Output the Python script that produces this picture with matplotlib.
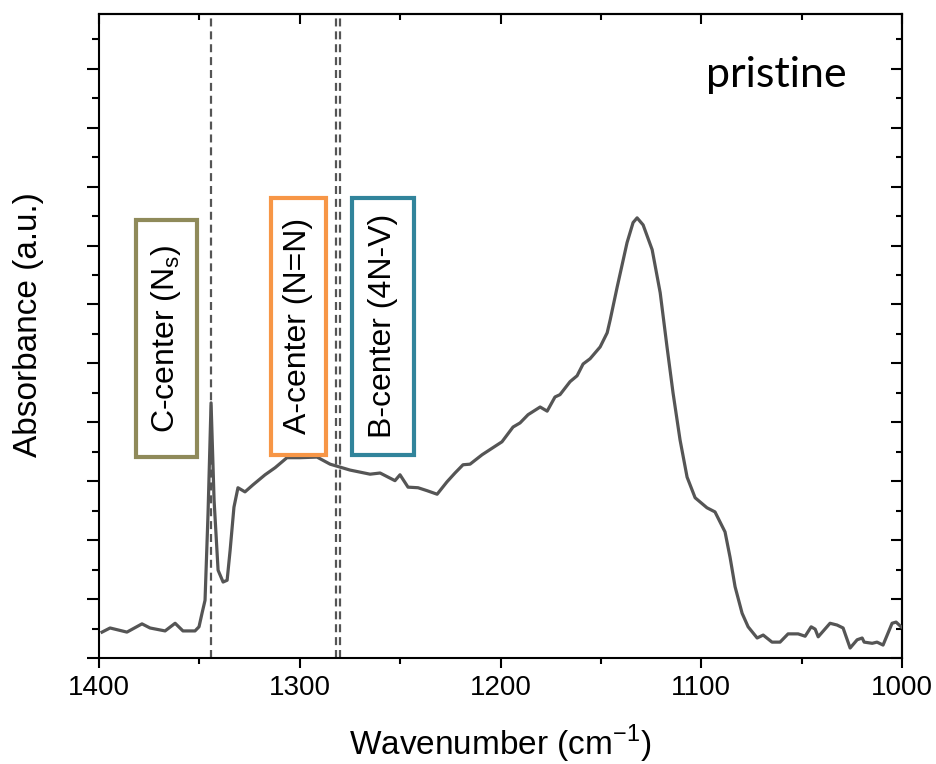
import matplotlib
matplotlib.use("Agg")
import matplotlib.pyplot as plt
from matplotlib.patches import Rectangle
from matplotlib.ticker import MultipleLocator

# FTIR absorbance spectrum
wavenumber = [1398.5, 1394.5, 1386.1, 1378.6, 1374.6, 1367.1, 1362.1, 1358.2, 1352.2, 1350.2,
              1348.7, 1347.2, 1345.7, 1344.2, 1342.7, 1340.7, 1338.2, 1336.2, 1334.7, 1332.8,
              1330.8, 1327.3, 1323.3, 1317.3, 1312.3, 1306.4, 1299.9, 1291.4, 1284.9, 1275.0,
              1265.0, 1260.0, 1252.6, 1250.1, 1246.1, 1241.1, 1236.6, 1231.6, 1226.7, 1222.7,
              1218.7, 1215.2, 1209.2, 1199.3, 1193.8, 1190.3, 1186.3, 1180.3, 1176.8, 1172.9,
              1170.4, 1165.4, 1161.9, 1158.9, 1155.4, 1150.4, 1146.9, 1145.4, 1141.9, 1137.0,
              1134.0, 1132.0, 1129.0, 1124.5, 1120.5, 1117.1, 1114.1, 1110.6, 1107.1, 1103.1,
              1097.2, 1093.2, 1088.2, 1085.7, 1083.2, 1079.7, 1076.7, 1072.2, 1069.2, 1064.8,
              1060.8, 1056.8, 1051.8, 1048.3, 1045.3, 1043.3, 1041.8, 1035.9, 1032.4, 1029.4,
              1025.9, 1022.4, 1019.9, 1018.9, 1014.9, 1012.5, 1009.5, 1005.0, 1003.0, 1000.5]
absorbance = [0.44, 0.51, 0.44, 0.58, 0.51, 0.46, 0.59, 0.46, 0.46, 0.53,
              0.76, 0.98, 2.46, 4.33, 2.68, 1.49, 1.29, 1.32, 1.83, 2.56,
              2.89, 2.82, 2.94, 3.11, 3.23, 3.40, 3.40, 3.41, 3.29, 3.19,
              3.12, 3.14, 3.01, 3.11, 2.90, 2.89, 2.84, 2.78, 2.99, 3.14,
              3.28, 3.29, 3.45, 3.67, 3.92, 3.99, 4.13, 4.26, 4.19, 4.43,
              4.47, 4.69, 4.79, 4.99, 5.08, 5.28, 5.52, 5.74, 6.30, 7.05,
              7.39, 7.47, 7.35, 6.93, 6.20, 5.28, 4.50, 3.70, 3.07, 2.72,
              2.55, 2.48, 2.14, 1.71, 1.21, 0.76, 0.53, 0.34, 0.39, 0.27,
              0.27, 0.41, 0.41, 0.37, 0.53, 0.49, 0.36, 0.59, 0.56, 0.51,
              0.17, 0.31, 0.34, 0.27, 0.25, 0.27, 0.22, 0.59, 0.61, 0.53]

# defect-centre marker lines
marker_lines = [1344, 1282, 1280]

# labelled boxes: text, colour, (x0, x1, y0, y1)
box_labels = [r"C-center (N$_\mathregular{s}$)", "A-center (N=N)", "B-center (4N-V)"]
box_colors = ["#8f8a5a", "#f79646", "#31849b"]
box_extents = [(1381.6, 1351.2, 3.41, 7.44),
               (1314.5, 1287.1, 3.45, 7.81),
               (1274.0, 1243.1, 3.45, 7.81)]

plt.rcParams["font.family"] = ["Liberation Sans", "DejaVu Sans"]
plt.rcParams["mathtext.fontset"] = "custom"
plt.rcParams["mathtext.rm"] = "Liberation Sans"

fig = plt.figure(figsize=(9.36, 7.64), dpi=100)
ax = fig.add_axes([0.1058, 0.1387, 0.858, 0.843])

ax.plot(wavenumber, absorbance, color="#555555", lw=2.3, zorder=3)

for wn in marker_lines:
    ax.axvline(wn, color="#555555", lw=1.6, linestyle=(0, (3.6, 2.2)), zorder=2)

for label, col, (x0, x1, y0, y1) in zip(box_labels, box_colors, box_extents):
    ax.add_patch(Rectangle((x1, y0), x0 - x1, y1 - y0, fill=True, facecolor="white",
                           edgecolor=col, lw=3, zorder=4))
    ax.text((x0 + x1) / 2, (y0 + y1) / 2, label, rotation=90, ha="center", va="center",
            fontsize=23, zorder=5)

ax.text(0.843, 0.905, "pristine", transform=ax.transAxes, ha="center", va="center",
        fontsize=31, family=["Lato", "DejaVu Sans"])

ax.set_xlim(1400, 1000)
ax.set_ylim(0, 10.93)
ax.xaxis.set_major_locator(MultipleLocator(100))
ax.xaxis.set_minor_locator(MultipleLocator(50))
ax.yaxis.set_major_locator(MultipleLocator(1))
ax.yaxis.set_minor_locator(MultipleLocator(0.5))
ax.tick_params(axis="both", which="both", direction="out", width=1.5, top=False, right=False)
ax.tick_params(axis="x", which="major", length=7, labelsize=20, pad=5)
ax.tick_params(axis="x", which="minor", length=4.5)
ax.tick_params(axis="y", which="major", length=8.5, labelleft=False)
ax.tick_params(axis="y", which="minor", length=5)

top = ax.secondary_xaxis("top")
top.xaxis.set_major_locator(MultipleLocator(100))
top.xaxis.set_minor_locator(MultipleLocator(50))
top.tick_params(which="both", direction="in", width=1.5, labeltop=False)
top.tick_params(which="major", length=7)
top.tick_params(which="minor", length=4)
right = ax.secondary_yaxis("right")
right.yaxis.set_major_locator(MultipleLocator(1))
right.yaxis.set_minor_locator(MultipleLocator(0.5))
right.tick_params(which="both", direction="in", width=1.5, labelright=False)
right.tick_params(which="major", length=8)
right.tick_params(which="minor", length=4)

for sp in list(ax.spines.values()) + [top.spines["top"], right.spines["right"]]:
    sp.set_linewidth(1.5)

ax.set_xlabel(r"Wavenumber (cm$^\mathregular{-1}$)", fontsize=24, labelpad=16)
ax.set_ylabel("Absorbance (a.u.)", fontsize=24)
ax.yaxis.set_label_coords(-0.068, 0.517)

fig.savefig("out.png", dpi=100)
